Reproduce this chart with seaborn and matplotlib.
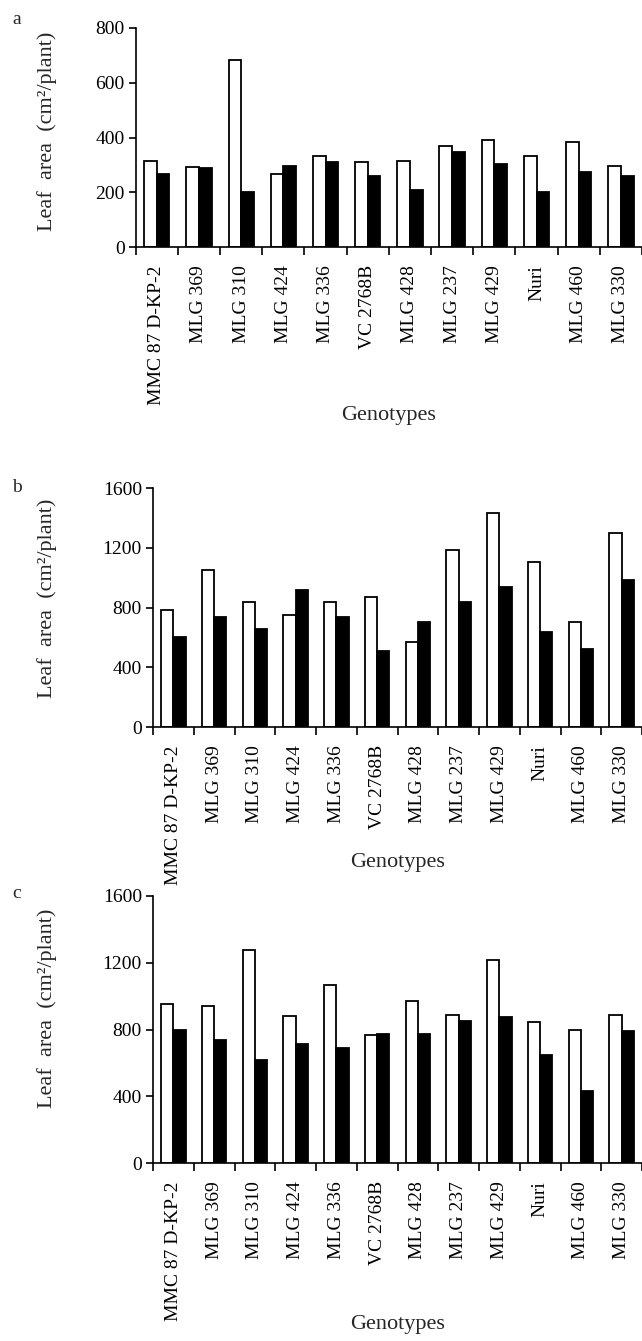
import matplotlib
matplotlib.use("Agg")
import matplotlib.pyplot as plt
import seaborn as sns
import numpy as np
import pandas as pd

# ---------------- data ----------------
genotypes = ["MMC 87 D-KP-2", "MLG 369", "MLG 310", "MLG 424", "MLG 336", "VC 2768B",
             "MLG 428", "MLG 237", "MLG 429", "Nuri", "MLG 460", "MLG 330"]
series_names = ["Series 1", "Series 2"]

a_white = [315, 294, 684, 266, 332, 309, 315, 369, 391, 332, 382, 295]
a_black = [267, 289, 200, 297, 310, 260, 208, 348, 304, 200, 275, 259]

b_white = [785, 1050, 834, 749, 834, 870, 569, 1184, 1430, 1102, 700, 1296]
b_black = [604, 738, 656, 916, 738, 506, 703, 837, 938, 637, 522, 987]

c_white = [950, 938, 1274, 879, 1068, 767, 972, 884, 1214, 846, 800, 884]
c_black = [795, 737, 615, 713, 689, 771, 771, 850, 874, 646, 429, 790]

a_yticks = [0, 200, 400, 600, 800]
bc_yticks = [0, 400, 800, 1200, 1600]

# ---------------- style ----------------
sns.set_theme(style="white")
plt.rcParams['font.family'] = ['Liberation Serif', 'DejaVu Serif']
plt.rcParams['axes.linewidth'] = 1.2

W, H = 642, 1341
fig = plt.figure(figsize=(W / 100, H / 100), dpi=100)

# panel geometry in pixels: (left, top, bottom, letter_y, ylabel_y, xlabel_y)
panels = [
    ("a", a_white, a_black, a_yticks, 135.7, 28, 247, 20, 131, 416),
    ("b", b_white, b_black, bc_yticks, 153, 488, 727, 487, 598, 863),
    ("c", c_white, c_black, bc_yticks, 153, 896, 1163, 893, 1008, 1325),
]

for letter, white, black, yticks, left, top, bottom, ly, yl_y, xl_y in panels:
    ax = fig.add_axes([left / W, 1 - bottom / H, (W - left) / W, (bottom - top) / H])
    df = pd.DataFrame({
        "Genotype": genotypes * 2,
        "Series": [series_names[0]] * len(genotypes) + [series_names[1]] * len(genotypes),
        "Leaf area": white + black,
    })
    sns.barplot(data=df, x="Genotype", y="Leaf area", hue="Series",
                order=genotypes, hue_order=series_names,
                palette=["white", "black"], edgecolor="black", linewidth=1.3,
                width=0.6, errorbar=None, legend=False, ax=ax)
    ax.set_xlim(-0.5, len(genotypes) - 0.5)
    ax.set_ylim(0, yticks[-1])
    ax.set_yticks(yticks)
    ax.set_yticklabels([str(t) for t in yticks])
    ax.set_xticks(range(len(genotypes)))
    ax.set_xticklabels(genotypes, rotation=90, va="top", ha="center")
    ax.set_xticks(np.arange(-0.5, len(genotypes), 1), minor=True)
    ax.tick_params(axis="x", which="major", length=0, labelsize=14, pad=13, colors="black")
    ax.tick_params(axis="x", which="minor", length=6, width=1.2, direction="out",
                   color="black", bottom=True)
    ax.tick_params(axis="y", length=5, width=1.2, direction="out", labelsize=14,
                   colors="black", left=True, pad=3)
    for s in ["top", "right"]:
        ax.spines[s].set_visible(False)
    for s in ["left", "bottom"]:
        ax.spines[s].set_color("black")
        ax.spines[s].set_linewidth(1.2)
    ax.set_xlabel("")
    ax.set_ylabel("")

    fig.text(17 / W, 1 - ly / H, letter, fontsize=14, ha="center", va="center")
    fig.text(47 / W, 1 - yl_y / H, "Leaf  area  (cm²/plant)", fontsize=16,
             rotation=90, ha="center", va="center")
    fig.text((left + W) / 2 / W, 1 - xl_y / H, "Genotypes", fontsize=16,
             ha="center", va="center")

fig.savefig("out.png", dpi=100, facecolor="white")
